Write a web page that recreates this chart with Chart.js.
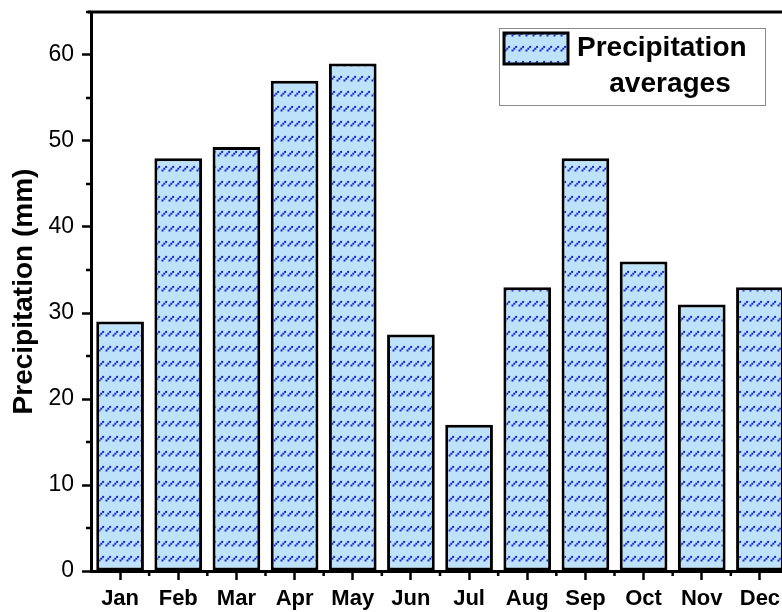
<!DOCTYPE html>
<html>
<head>
<meta charset="utf-8">
<script src="https://cdn.jsdelivr.net/npm/chart.js@4.4.1/dist/chart.umd.min.js"></script>
<style>
html, body { margin: 0; padding: 0; background: #fff; overflow: hidden; }
#wrap { width: 782px; height: 612px; overflow: hidden; }
canvas { display: block; }
</style>
</head>
<body>
<div id="wrap"><canvas id="chart_precip" width="800" height="612" style="width:800px;height:612px"></canvas></div>
<script>
var months = ['Jan', 'Feb', 'Mar', 'Apr', 'May', 'Jun', 'Jul', 'Aug', 'Sep', 'Oct', 'Nov', 'Dec'];
var precipitation = [29, 48, 49.3, 57, 59, 27.5, 17, 33, 48, 36, 31, 33];
var yMin = 0;
var yMax = 65;
var yStep = 5;
var legendLines = ['Precipitation', 'averages'];

var fontFamily = '"Liberation Sans", Arial, sans-serif';

// light blue fill with rows of small blue dotted slashes
function makeHatch() {
    var c = document.createElement('canvas');
    c.width = 7;
    c.height = 15;
    var g = c.getContext('2d');
    g.fillStyle = '#bde2fa';
    g.fillRect(0, 0, 7, 15);
    g.fillStyle = '#1628d8';
    [[0.5, 4.5], [2.3, 2.7], [4.1, 0.9]].forEach(function (p) {
        g.fillRect(p[0], p[1], 2, 2);
    });
    return g.createPattern(c, 'repeat');
}
var hatch = makeHatch();

var framePlugin = {
    id: 'frameAndLegend',
    afterDraw: function (chart) {
        var ctx = chart.ctx;
        var area = chart.chartArea;
        var x = chart.scales.x;
        var y = chart.scales.y;
        ctx.save();
        ctx.strokeStyle = '#000';

        // top frame line
        ctx.lineWidth = 3;
        ctx.beginPath();
        ctx.moveTo(area.left - 3, area.top);
        ctx.lineTo(chart.width, area.top);
        ctx.stroke();

        // minor ticks
        ctx.lineWidth = 2.5;
        ctx.beginPath();
        for (var v = yMin + 5; v <= yMax; v += 10) {
            var py = y.getPixelForValue(v);
            ctx.moveTo(area.left, py);
            ctx.lineTo(area.left - 5, py);
        }
        var half = (x.getPixelForValue(1) - x.getPixelForValue(0)) / 2;
        for (var i = 0; i < months.length; i++) {
            var px = x.getPixelForValue(i) + half;
            ctx.moveTo(px, area.bottom);
            ctx.lineTo(px, area.bottom + 5);
        }
        ctx.stroke();

        // legend box
        ctx.lineWidth = 1;
        ctx.strokeStyle = '#8a8a8a';
        ctx.strokeRect(499.5, 28.5, 266, 77);
        ctx.fillStyle = hatch;
        ctx.fillRect(504, 33, 64, 31);
        ctx.lineWidth = 3;
        ctx.strokeStyle = '#000';
        ctx.strokeRect(504, 33, 64, 31);

        ctx.fillStyle = '#000';
        ctx.font = 'bold 28px ' + fontFamily;
        ctx.textBaseline = 'alphabetic';
        ctx.textAlign = 'left';
        ctx.fillText(legendLines[0], 577, 56);
        ctx.textAlign = 'center';
        ctx.fillText(legendLines[1], 670, 92);
        ctx.restore();
    }
};

var chart_precip = new Chart(document.getElementById('chart_precip'), {
    type: 'bar',
    data: {
        labels: months,
        datasets: [{
            label: legendLines.join(' '),
            data: precipitation,
            backgroundColor: hatch,
            borderColor: '#000',
            borderWidth: 3,
            borderSkipped: false,
            barPercentage: 0.82,
            categoryPercentage: 1.0
        }]
    },
    options: {
        animation: false,
        responsive: false,
        layout: { padding: { left: 0, right: 11, top: 12, bottom: 0 } },
        plugins: {
            legend: { display: false },
            tooltip: { enabled: false }
        },
        scales: {
            x: {
                offset: true,
                grid: {
                    offset: false,
                    drawOnChartArea: false,
                    tickLength: 9,
                    tickWidth: 2.5,
                    tickColor: '#000'
                },
                border: { display: true, color: '#000', width: 3 },
                ticks: {
                    color: '#000',
                    padding: 6,
                    maxRotation: 0,
                    font: { family: fontFamily, size: 22, weight: 'bold' }
                },
                afterFit: function (scale) { scale.height = 41; }
            },
            y: {
                min: yMin,
                max: yMax,
                grid: {
                    drawOnChartArea: false,
                    tickLength: 9,
                    tickWidth: function (c) { return c.tick && c.tick.value % 10 === 0 ? 2.5 : 0; },
                    tickColor: '#000'
                },
                border: { display: true, color: '#000', width: 3 },
                ticks: {
                    stepSize: yStep,
                    color: '#000',
                    padding: 8,
                    font: { family: fontFamily, size: 23 },
                    callback: function (v) { return v % 10 === 0 ? v : ''; }
                },
                title: {
                    display: true,
                    text: 'Precipitation (mm)',
                    color: '#000',
                    padding: { top: 7, bottom: 0 },
                    font: { family: fontFamily, size: 28, weight: 'bold' }
                },
                afterFit: function (scale) {
                    scale.width = 91;
                    scale.paddingTop = 0;
                }
            }
        }
    },
    plugins: [framePlugin]
});
</script>
</body>
</html>
